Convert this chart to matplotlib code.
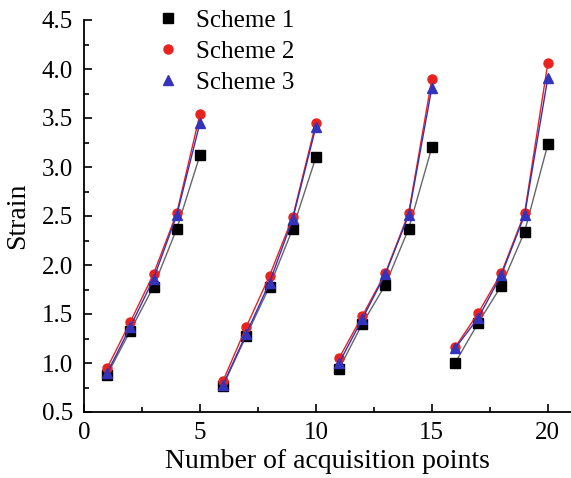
import matplotlib
matplotlib.use("Agg")
import matplotlib.pyplot as plt
from matplotlib.ticker import MultipleLocator

plt.rcParams['font.family'] = ['Liberation Serif', 'DejaVu Serif']

points = list(range(1, 21))
scheme1 = [0.88, 1.33, 1.78, 2.37, 3.12,
           0.77, 1.28, 1.78, 2.37, 3.10,
           0.94, 1.40, 1.80, 2.37, 3.20,
           1.00, 1.41, 1.79, 2.34, 3.23]
scheme2 = [0.95, 1.42, 1.91, 2.53, 3.54,
           0.82, 1.37, 1.89, 2.49, 3.45,
           1.05, 1.48, 1.92, 2.53, 3.90,
           1.16, 1.51, 1.92, 2.53, 4.06]
scheme3 = [0.90, 1.37, 1.86, 2.51, 3.45,
           0.78, 1.30, 1.82, 2.47, 3.41,
           1.00, 1.45, 1.91, 2.51, 3.81,
           1.15, 1.46, 1.90, 2.51, 3.91]
labels = ['Scheme 1', 'Scheme 2', 'Scheme 3']

fig = plt.figure(figsize=(5.71, 4.78), dpi=100)
ax = fig.add_axes([84/571, 66/478, (571-84)/571, (412-20)/478])

series = [(scheme1, 's', 'black', '#666666'),
          (scheme2, 'o', '#e8231f', '#e8231f'),
          (scheme3, '^', '#3333bb', '#3333bb')]
for (vals, mk, mc, lc), lab in zip(series, labels):
    for g in range(4):
        xs = points[g*5:(g+1)*5]
        ys = vals[g*5:(g+1)*5]
        ax.plot(xs, ys, '-', color=lc, lw=1.0)
    ax.plot(points, vals, mk, color=mc, ms=6.5, ls='none', label=lab)

ax.set_xlim(0, 21)
ax.set_ylim(0.5, 4.5)
ax.xaxis.set_major_locator(MultipleLocator(5))
ax.xaxis.set_minor_locator(MultipleLocator(2.5))
ax.yaxis.set_major_locator(MultipleLocator(0.5))
ax.yaxis.set_minor_locator(MultipleLocator(0.25))
ax.tick_params(which='both', direction='in', labelsize=18, width=1.2)
ax.tick_params(which='major', length=6)
ax.tick_params(which='minor', length=3.5)
ax.tick_params(axis='x', pad=7)
ax.tick_params(axis='y', pad=8)
for s in ('left', 'bottom'):
    ax.spines[s].set_linewidth(1.3)
ax.spines['top'].set_visible(False)
ax.spines['right'].set_visible(False)
ax.set_xlabel('Number of acquisition points', fontsize=20, labelpad=4)
ax.set_ylabel('Strain', fontsize=20, labelpad=8)

ax.legend(loc='upper left', bbox_to_anchor=(0.1, 1.085), frameon=False,
          fontsize=18, handlelength=1.0, handletextpad=0.65, labelspacing=0.35)

fig.savefig('out.png', dpi=100)
